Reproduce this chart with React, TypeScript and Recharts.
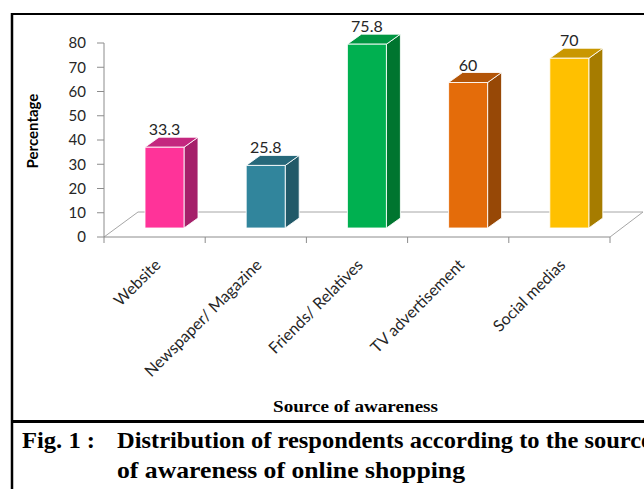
import React from 'react';
import { BarChart, Bar, XAxis, YAxis } from 'recharts';

const categories = ['Website', 'Newspaper/ Magazine', 'Friends/ Relatives', 'TV advertisement', 'Social medias'];
const percentages = [33.3, 25.8, 75.8, 60, 70];
const yTicks = [0, 10, 20, 30, 40, 50, 60, 70, 80];

const frontColors = ['#FF3399', '#31859C', '#00B050', '#E46C0A', '#FFC000'];
const sideColors = ['#A5206A', '#215968', '#00752F', '#974806', '#A67C00'];
const topColors = ['#C4277F', '#26687A', '#009642', '#B35508', '#C99700'];

const data = categories.map((name, i) => ({ name, value: percentages[i] }));

const W = 644;
const CHART_H = 420;
const PLOT_LEFT = 104;
const PLOT_RIGHT = 610;
const PLOT_TOP = 43;
const AXIS_Y = 237;
const BAND = (PLOT_RIGHT - PLOT_LEFT) / categories.length;

const FONT = 'Lato, "Open Sans", sans-serif';
const SERIF = '"Liberation Serif", "DejaVu Serif", serif';
const GRID = '#8C8C8C';

// front face sits a little above and right of the axis, with a depth side
const SHIFT_X = 10;
const SHIFT_Y = 9;
const DX = 14;
const DY = 10;

function Bar3D(props: any) {
  const { x, y, width, height, index, value } = props;
  const l = x + SHIFT_X;
  const r = l + width;
  const t = y - SHIFT_Y;
  const b = y + height - SHIFT_Y;
  const edge = { stroke: '#ffffff', strokeOpacity: 0.85, strokeWidth: 1 };
  return (
    <g>
      <polygon points={`${r},${t} ${r + DX},${t - DY} ${r + DX},${b - DY} ${r},${b}`} fill={sideColors[index]} {...edge} />
      <polygon points={`${l},${t} ${l + DX},${t - DY} ${r + DX},${t - DY} ${r},${t}`} fill={topColors[index]} {...edge} />
      <rect x={l} y={t} width={width} height={b - t} fill={frontColors[index]} {...edge} />
      <text x={l + width / 2} y={t - 12} textAnchor="middle" fontFamily={FONT} fontSize={16} fill="#262626">
        {value}
      </text>
    </g>
  );
}

function CategoryTick(props: any) {
  const { x, payload, index } = props;
  const half = BAND / 2;
  return (
    <g>
      <line x1={x + half} y1={AXIS_Y} x2={x + half} y2={AXIS_Y + 6} stroke={GRID} />
      {index === 0 && <line x1={x - half} y1={AXIS_Y} x2={x - half} y2={AXIS_Y + 6} stroke={GRID} />}
      <text
        transform={`translate(${x + 7},${AXIS_Y + 29}) rotate(-45)`}
        textAnchor="end"
        fontFamily={FONT}
        fontSize={16}
        fill="#262626"
      >
        {payload.value}
      </text>
    </g>
  );
}

export default function App() {
  return (
    <div style={{ position: 'absolute', left: 0, top: 0, width: W, height: 489, background: '#fff', overflow: 'hidden' }}>
      {/* floor of the 3D plot */}
      <svg width={W} height={CHART_H} style={{ position: 'absolute', left: 0, top: 0 }}>
        <polyline
          points={`${PLOT_LEFT},${AXIS_Y} ${PLOT_LEFT + 34},${AXIS_Y - 25} ${PLOT_RIGHT + 33},${AXIS_Y - 25} ${PLOT_RIGHT},${AXIS_Y}`}
          fill="none"
          stroke="#A6A6A6"
        />
      </svg>
      <div style={{ position: 'absolute', left: 0, top: 0 }}>
        <BarChart
          width={W}
          height={CHART_H}
          data={data}
          margin={{ top: PLOT_TOP, right: W - PLOT_RIGHT, left: 0, bottom: 0 }}
          barCategoryGap={0}
        >
          <XAxis
            dataKey="name"
            height={CHART_H - AXIS_Y}
            axisLine={{ stroke: GRID }}
            tickLine={false}
            interval={0}
            tick={<CategoryTick />}
          />
          <YAxis
            width={PLOT_LEFT}
            domain={[0, 80]}
            ticks={yTicks}
            interval={0}
            axisLine={{ stroke: GRID }}
            tickLine={{ stroke: GRID }}
            tickSize={7}
            tickMargin={11}
            tick={{ fontFamily: FONT, fontSize: 15, fill: '#262626' }}
            label={{
              content: () => (
                <text
                  transform="translate(38,131) rotate(-90)"
                  textAnchor="middle"
                  fontFamily={FONT}
                  fontSize={15}
                  fontWeight="bold"
                  fill="#000"
                >
                  Percentage
                </text>
              ),
            }}
          />
          <Bar dataKey="value" barSize={39} shape={<Bar3D />} isAnimationActive={false} />
        </BarChart>
      </div>
      {/* frame and caption */}
      <svg width={W} height={489} style={{ position: 'absolute', left: 0, top: 0 }}>
        <line x1={11} y1={14} x2={W} y2={14} stroke="#000" strokeWidth={2} />
        <line x1={12} y1={13} x2={12} y2={489} stroke="#000" strokeWidth={2.5} />
        <line x1={11} y1={421.5} x2={W} y2={421.5} stroke="#000" strokeWidth={3} />
        <text x={273} y={412} textLength={165} lengthAdjust="spacingAndGlyphs" fontFamily={SERIF} fontWeight="bold" fontSize={16} fill="#000">
          Source of awareness
        </text>
        <text x={22} y={448} textLength={73} lengthAdjust="spacingAndGlyphs" fontFamily={SERIF} fontWeight="bold" fontSize={23} fill="#000">
          Fig. 1 :
        </text>
        <text x={117} y={448} textLength={535} lengthAdjust="spacingAndGlyphs" fontFamily={SERIF} fontWeight="bold" fontSize={23} fill="#000">
          Distribution of respondents according to the source
        </text>
        <text x={117} y={478} textLength={348} lengthAdjust="spacingAndGlyphs" fontFamily={SERIF} fontWeight="bold" fontSize={23} fill="#000">
          of awareness of online shopping
        </text>
      </svg>
    </div>
  );
}
